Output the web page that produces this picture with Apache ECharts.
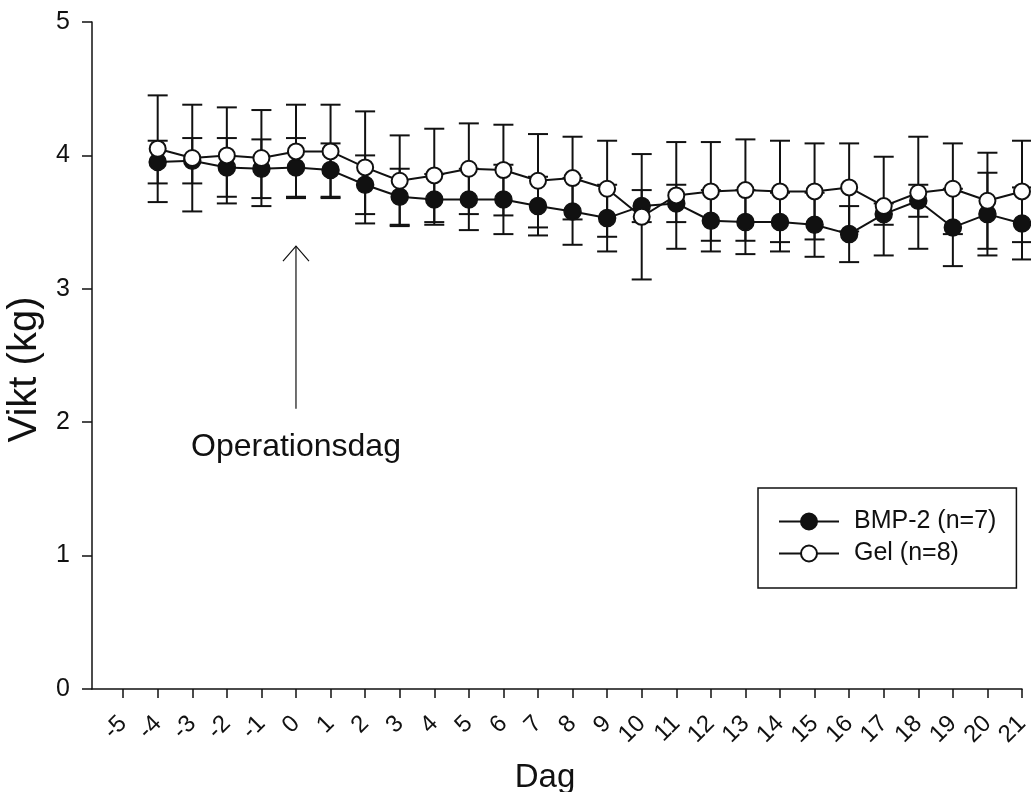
<!DOCTYPE html>
<html><head><meta charset="utf-8">
<script src="https://cdn.jsdelivr.net/npm/echarts@6/dist/echarts.min.js"></script>
<style>html,body{margin:0;padding:0;background:#fff}#c{width:1031px;height:792px}</style>
</head><body><div id="c"></div>
<script>
// ---- data ----
const days = [-4,-3,-2,-1,0,1,2,3,4,5,6,7,8,9,10,11,12,13,14,15,16,17,18,19,20,21];
const xTicks = [-5,-4,-3,-2,-1,0,1,2,3,4,5,6,7,8,9,10,11,12,13,14,15,16,17,18,19,20,21];
const yTicks = [0,1,2,3,4,5];
const bmpMean = [3.95,3.96,3.91,3.90,3.91,3.89,3.78,3.69,3.67,3.67,3.67,3.62,3.58,3.53,3.62,3.64,3.51,3.50,3.50,3.48,3.41,3.56,3.66,3.46,3.56,3.49];
const bmpErr  = [0.16,0.17,0.22,0.22,0.22,0.20,0.22,0.21,0.19,0.23,0.26,0.22,0.25,0.25,0.12,0.14,0.23,0.24,0.22,0.24,0.21,0.08,0.12,0.29,0.31,0.27];
const gelMean = [4.05,3.98,4.00,3.98,4.03,4.03,3.91,3.81,3.85,3.90,3.89,3.81,3.83,3.75,3.54,3.70,3.73,3.74,3.73,3.73,3.76,3.62,3.72,3.75,3.66,3.73];
const gelErr  = [0.40,0.40,0.36,0.36,0.35,0.35,0.42,0.34,0.35,0.34,0.34,0.35,0.31,0.36,0.47,0.40,0.37,0.38,0.38,0.36,0.33,0.37,0.42,0.34,0.36,0.38];
const seriesNames = ['BMP-2 (n=7)', 'Gel (n=8)'];
const annotDay = [0];
const annotTip = [3.32];
const annotTail = [2.10];
const annotLabelY = [1.81];
const annotText = ['Operationsdag'];

const FONT = 'Liberation Sans, Arial, sans-serif';
const INK = '#111';

function errRender(params, api) {
  const x = api.value(0), lo = api.value(1), hi = api.value(2);
  const pHi = api.coord([x, hi]);
  const pLo = api.coord([x, lo]);
  const hw = 10;
  const style = { stroke: INK, lineWidth: 2, fill: null };
  return { type: 'group', children: [
    { type: 'line', shape: { x1: pHi[0], y1: pHi[1], x2: pLo[0], y2: pLo[1] }, style },
    { type: 'line', shape: { x1: pHi[0] - hw, y1: pHi[1], x2: pHi[0] + hw, y2: pHi[1] }, style },
    { type: 'line', shape: { x1: pLo[0] - hw, y1: pLo[1], x2: pLo[0] + hw, y2: pLo[1] }, style }
  ]};
}

function annotRender(params, api) {
  const x = api.value(0);
  const tip = api.coord([x, api.value(1)]);
  const tail = api.coord([x, api.value(2)]);
  const lab = api.coord([x, api.value(3)]);
  const style = { stroke: INK, lineWidth: 1.2, fill: null };
  return { type: 'group', children: [
    { type: 'line', shape: { x1: tip[0], y1: tip[1], x2: tail[0], y2: tail[1] }, style },
    { type: 'polyline', shape: { points: [[tip[0] - 13, tip[1] + 15], [tip[0], tip[1]], [tip[0] + 13, tip[1] + 15]] }, style },
    { type: 'text', x: lab[0], y: lab[1], style: { text: annotText[params.dataIndex], font: '32px ' + FONT, fill: INK, align: 'center', verticalAlign: 'middle' } }
  ]};
}

const chart = echarts.init(document.getElementById('c'), null, { renderer: 'canvas' });
chart.setOption({
  backgroundColor: '#fff',
  animation: false,
  grid: { left: 92, right: 9, top: 22, bottom: 103, containLabel: false, outerBoundsMode: 'none' },
  legend: {
    orient: 'vertical', left: 758, top: 488,
    padding: [21, 20, 22, 20],
    borderColor: INK, borderWidth: 1.5,
    itemWidth: 60, itemHeight: 20, itemGap: 7,
    textStyle: { fontFamily: FONT, fontSize: 25, color: INK, padding: [0, 0, 0, 10] },
    data: seriesNames
  },
  xAxis: {
    type: 'value', min: -5.9, max: 21,
    axisLine: { show: true, onZero: false, lineStyle: { color: INK, width: 1.5 } },
    axisTick: { show: true, length: 9, customValues: xTicks, lineStyle: { color: INK, width: 1.5 } },
    axisLabel: { customValues: xTicks, rotate: 45, margin: 31, fontSize: 24, fontFamily: FONT, color: INK, hideOverlap: false },
    splitLine: { show: false },
    name: 'Dag', nameLocation: 'middle', nameGap: 72,
    nameTextStyle: { fontSize: 33, fontFamily: FONT, color: INK, padding: [0, 24, 0, 0] }
  },
  yAxis: {
    type: 'value', min: 0, max: 5, interval: 1,
    axisLine: { show: true, onZero: false, lineStyle: { color: INK, width: 1.5 } },
    axisTick: { show: true, length: 10, lineStyle: { color: INK, width: 1.5 } },
    axisLabel: { margin: 22, fontSize: 25, fontFamily: FONT, color: INK },
    splitLine: { show: false },
    name: 'Vikt (kg)', nameLocation: 'middle', nameGap: 44,
    nameTextStyle: { fontSize: 40, fontFamily: FONT, color: INK, padding: [0, 28, 0, 0] }
  },
  series: [
    {
      name: 'bmpErr', type: 'custom', renderItem: errRender, z: 1, silent: true,
      encode: { x: 0, y: [1, 2] },
      data: days.map((d, i) => [d, bmpMean[i] - bmpErr[i], bmpMean[i] + bmpErr[i]])
    },
    {
      name: 'gelErr', type: 'custom', renderItem: errRender, z: 1, silent: true,
      encode: { x: 0, y: [1, 2] },
      data: days.map((d, i) => [d, gelMean[i] - gelErr[i], gelMean[i] + gelErr[i]])
    },
    {
      name: seriesNames[0], type: 'line', z: 3,
      symbol: 'circle', symbolSize: 17,
      lineStyle: { color: INK, width: 2 },
      itemStyle: { color: INK, borderColor: INK, borderWidth: 1.5 },
      data: days.map((d, i) => [d, bmpMean[i]])
    },
    {
      name: seriesNames[1], type: 'line', z: 4,
      symbol: 'circle', symbolSize: 16,
      lineStyle: { color: INK, width: 2 },
      itemStyle: { color: '#fff', borderColor: INK, borderWidth: 2 },
      data: days.map((d, i) => [d, gelMean[i]])
    },
    {
      name: 'annotation', type: 'custom', renderItem: annotRender, z: 2, silent: true,
      encode: { x: 0, y: [1, 2, 3] },
      data: annotDay.map((d, i) => [d, annotTip[i], annotTail[i], annotLabelY[i]])
    }
  ]
});
</script>
</body></html>
